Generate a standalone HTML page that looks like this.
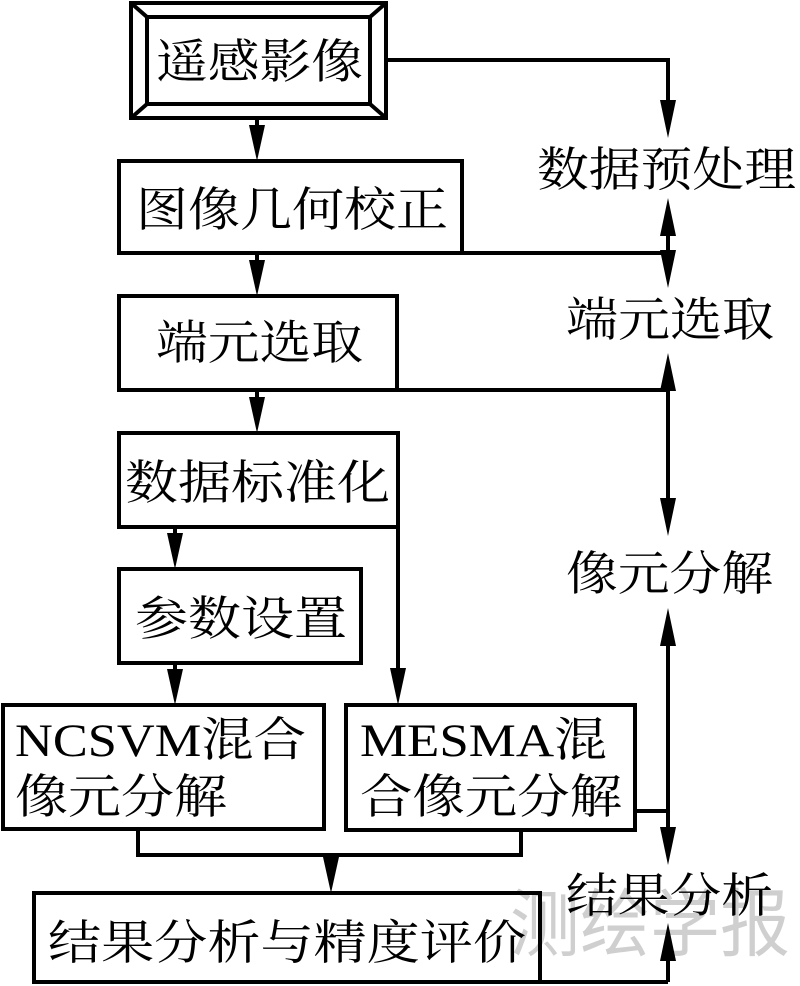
<!DOCTYPE html>
<html><head><meta charset="utf-8"><style>
html,body{margin:0;padding:0;background:#fff;}
svg{display:block;}
text{font-family:"Liberation Serif","Noto Serif CJK SC",serif;fill:#000;}
</style></head><body>
<svg width="800" height="986" viewBox="0 0 800 986" xmlns="http://www.w3.org/2000/svg">
<text x="510" y="950" style="font-family:'Noto Sans CJK SC',sans-serif;fill:#cfcfcf;" font-size="74" textLength="280" lengthAdjust="spacingAndGlyphs">测绘学报</text>
<g fill="none" stroke="#000" stroke-width="4">
<rect x="131" y="3" width="255" height="115"/>
<rect x="147" y="17" width="223" height="87"/>
<line x1="131" y1="3" x2="147" y2="17"/><line x1="386" y1="3" x2="370" y2="17"/>
<line x1="131" y1="118" x2="147" y2="104"/><line x1="386" y1="118" x2="370" y2="104"/>
<rect x="119" y="161" width="343" height="92"/>
<rect x="119" y="296" width="278" height="94"/>
<rect x="119" y="433" width="279" height="94"/>
<rect x="119" y="569" width="242" height="94"/>
<rect x="3" y="705" width="321" height="124"/>
<rect x="346" y="705" width="289" height="125"/>
<rect x="34" y="893" width="506" height="89"/>
<polyline points="138,829 138,855 521,855 521,830"/>
<line x1="398" y1="527" x2="398" y2="680"/>
<polyline points="386,60 668,60 668,115"/>
<line x1="462" y1="253" x2="668" y2="253"/>
<line x1="668" y1="220" x2="668" y2="265"/>
<line x1="397" y1="390" x2="668" y2="390"/>
<line x1="668" y1="375" x2="668" y2="515"/>
<line x1="668" y1="630" x2="668" y2="845"/>
<line x1="635" y1="811" x2="668" y2="811"/>
<line x1="668" y1="945" x2="668" y2="982"/>
<line x1="540" y1="982" x2="668" y2="982"/>
<line x1="257" y1="118" x2="257" y2="130"/>
<line x1="257" y1="253" x2="257" y2="265"/>
<line x1="257" y1="390" x2="257" y2="402"/>
<line x1="175" y1="527" x2="175" y2="538"/>
<line x1="175" y1="663" x2="175" y2="675"/>
<line x1="331" y1="855" x2="331" y2="862"/>
</g>
<g fill="#000">
<polygon points="249,125 265,125 257,161"/>
<polygon points="249,260 265,260 257,296"/>
<polygon points="249,397 265,397 257,433"/>
<polygon points="167,533 183,533 175,569"/>
<polygon points="167,669 183,669 175,705"/>
<polygon points="390,668 406,668 398,705"/>
<polygon points="323,857 339,857 331,893"/>
<polygon points="660,100 676,100 668,138"/>
<polygon points="660,236 676,236 668,198"/>
<polygon points="660,250 676,250 668,288"/>
<polygon points="660,391 676,391 668,353"/>
<polygon points="660,498 676,498 668,536"/>
<polygon points="660,646 676,646 668,608"/>
<polygon points="660,827 676,827 668,865"/>
<polygon points="660,961 676,961 668,923"/>
</g>
<g font-size="47">
<text x="156" y="78" textLength="207" lengthAdjust="spacingAndGlyphs">遥感影像</text>
<text x="136" y="226" textLength="312" lengthAdjust="spacingAndGlyphs">图像几何校正</text>
<text x="156" y="359" textLength="207" lengthAdjust="spacingAndGlyphs">端元选取</text>
<text x="125" y="499" textLength="265" lengthAdjust="spacingAndGlyphs">数据标准化</text>
<text x="135" y="635" textLength="212" lengthAdjust="spacingAndGlyphs">参数设置</text>
<text x="15" y="756" textLength="291" lengthAdjust="spacingAndGlyphs">NCSVM混合</text>
<text x="15" y="813" textLength="212" lengthAdjust="spacingAndGlyphs">像元分解</text>
<text x="360" y="756" textLength="247" lengthAdjust="spacingAndGlyphs">MESMA混</text>
<text x="360" y="813" textLength="262" lengthAdjust="spacingAndGlyphs">合像元分解</text>
<text x="48" y="959" textLength="478" lengthAdjust="spacingAndGlyphs">结果分析与精度评价</text>
<text x="537" y="186" textLength="259" lengthAdjust="spacingAndGlyphs">数据预处理</text>
<text x="566" y="336" textLength="208" lengthAdjust="spacingAndGlyphs">端元选取</text>
<text x="566" y="590" textLength="207" lengthAdjust="spacingAndGlyphs">像元分解</text>
<text x="566" y="912" textLength="207" lengthAdjust="spacingAndGlyphs">结果分析</text>
</g>
</svg>
</body></html>
